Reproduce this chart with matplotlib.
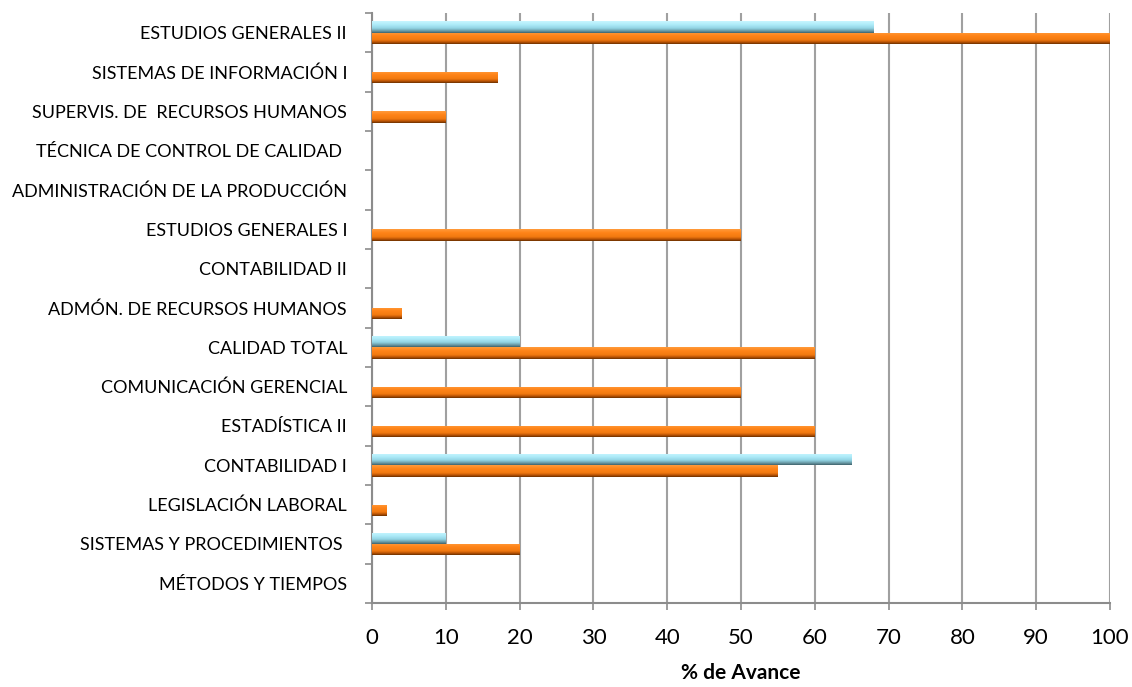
import matplotlib
matplotlib.use("Agg")
import matplotlib.pyplot as plt
import numpy as np
from matplotlib.colors import LinearSegmentedColormap

categories = [
    "MÉTODOS Y TIEMPOS",
    "SISTEMAS Y PROCEDIMIENTOS ",
    "LEGISLACIÓN LABORAL",
    "CONTABILIDAD I",
    "ESTADÍSTICA II",
    "COMUNICACIÓN GERENCIAL",
    "CALIDAD TOTAL",
    "ADMÓN. DE RECURSOS HUMANOS",
    "CONTABILIDAD II",
    "ESTUDIOS GENERALES I",
    "ADMINISTRACIÓN DE LA PRODUCCIÓN",
    "TÉCNICA DE CONTROL DE CALIDAD ",
    "SUPERVIS. DE  RECURSOS HUMANOS",
    "SISTEMAS DE INFORMACIÓN I",
    "ESTUDIOS GENERALES II",
]
orange_values = [0, 20, 2, 55, 60, 50, 60, 4, 0, 50, 0, 0, 10, 17, 100]
blue_values = [0, 10, 0, 65, 0, 0, 20, 0, 0, 0, 0, 0, 0, 0, 68]
xticks = [0, 10, 20, 30, 40, 50, 60, 70, 80, 90, 100]

plt.rcParams['font.family'] = ['Lato', 'DejaVu Sans']

fig = plt.figure(figsize=(11.32, 6.87), dpi=100)
ax = fig.add_axes([372/1132, 84/687, 738/1132, 590/687])

y = np.arange(len(categories))
h = 0.29
orange_bars = ax.barh(y - h/2, orange_values, height=h, color="#F58014", linewidth=0, zorder=3)
blue_bars = ax.barh(y + h/2, blue_values, height=h, color="#9ADCEC", linewidth=0, zorder=3)

orange_cmap = LinearSegmentedColormap.from_list(
    "o", [(0, "#FF9B3C"), (0.3, "#FF8418"), (0.65, "#F27A10"), (0.85, "#B85204"), (1, "#6A3000")])
blue_cmap = LinearSegmentedColormap.from_list(
    "b", [(0, "#C8F6FF"), (0.3, "#AEEBF9"), (0.6, "#92D4E4"), (0.85, "#66949F"), (1, "#3E626C")])
grad = np.linspace(0, 1, 64).reshape(-1, 1)

for bars, cmap in ((orange_bars, orange_cmap), (blue_bars, blue_cmap)):
    for p in bars:
        w = p.get_width()
        if w <= 0:
            continue
        x0, y0 = p.get_x(), p.get_y()
        hh = p.get_height()
        im = ax.imshow(grad, cmap=cmap, aspect="auto",
                       extent=(x0, x0 + w, y0, y0 + hh), origin="upper", zorder=4,
                       interpolation="bilinear")
        im.set_clip_path(p)

ax.set_xlim(0, 100)
ax.set_ylim(-0.5, len(categories) - 0.5)
ax.set_xticks(xticks)
ax.set_xticklabels([str(t) for t in xticks], fontsize=16)
ax.set_yticks(y)
ax.set_yticklabels(categories, fontsize=13)
ax.set_yticks(np.arange(-0.5, len(categories), 1), minor=True)
ax.tick_params(axis="y", which="major", length=0, pad=18)
ax.tick_params(axis="y", which="minor", length=5, color="#8C8C8C", width=1.2)
ax.tick_params(axis="x", length=5, color="#8C8C8C", width=1.2, pad=13)

ax.grid(axis="x", color="#A0A0A0", linewidth=1.5, zorder=0)
ax.set_axisbelow(True)
for s in ("top", "right"):
    ax.spines[s].set_visible(False)
for s in ("left", "bottom"):
    ax.spines[s].set_color("#8C8C8C")
    ax.spines[s].set_linewidth(1.5)

ax.set_xlabel("% de Avance", fontsize=15, fontweight="bold", labelpad=11)

fig.savefig("out.png", dpi=100)
